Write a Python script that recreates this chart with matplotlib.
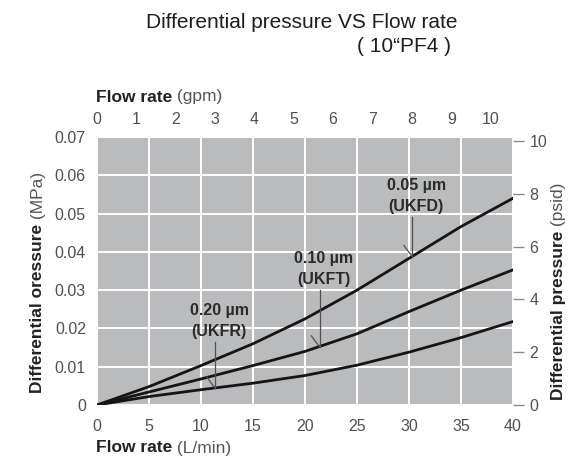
import matplotlib
matplotlib.use('Agg')
import matplotlib.pyplot as plt

# curves: flow rate (L/min) vs differential pressure (MPa)
flow = [0, 5, 10, 15, 20, 25, 30, 35, 40]
ukfd = [0, 0.0048, 0.0103, 0.0160, 0.0225, 0.0300, 0.0383, 0.0466, 0.0540]
ukft = [0, 0.0034, 0.0068, 0.0103, 0.0140, 0.0186, 0.0244, 0.0300, 0.0353]
ukfr = [0, 0.0022, 0.0040, 0.0057, 0.0077, 0.0104, 0.0138, 0.0176, 0.0218]

# callouts: text, arrow x (L/min), arrow tip (MPa), arrow top (MPa)
callouts = [
	('0.05 µm\n(UKFD)', 30.3, 0.0388, 0.0492),
	('0.10 µm\n(UKFT)', 21.4, 0.0152, 0.0300),
	('0.20 µm\n(UKFR)', 11.35, 0.0044, 0.0165),
]

mpa_ticks = [0, 0.01, 0.02, 0.03, 0.04, 0.05, 0.06, 0.07]
mpa_labels = ['0', '0.01', '0.02', '0.03', '0.04', '0.05', '0.06', '0.07']
lpm_ticks = [0, 5, 10, 15, 20, 25, 30, 35, 40]
gpm_ticks = list(range(0, 11))
psi_ticks = [0, 2, 4, 6, 8, 10]

LPM_PER_GPM = 3.785
MPA_PER_PSI = 0.006895

plt.rcParams['font.family'] = ['Liberation Sans Narrow', 'Liberation Sans', 'DejaVu Sans']

W, H = 581, 468
fig = plt.figure(figsize=(W / 100, H / 100), dpi=100)
ax = fig.add_axes([97 / W, 63 / H, 416 / W, 268 / H])
ax.set_facecolor('#babbbd')

for ys in (ukfd, ukft, ukfr):
	ax.plot(flow, ys, color='#151515', lw=2.0, solid_capstyle='round', solid_joinstyle='round', zorder=3)

ax.set_xlim(0, 40)
ax.set_ylim(0, 0.07)
ax.set_xticks(lpm_ticks)
ax.set_yticks(mpa_ticks)
ax.set_yticklabels(mpa_labels)
ax.grid(color='white', lw=1.4)
ax.set_axisbelow(True)
for s in ax.spines.values():
	s.set_visible(False)
ax.tick_params(length=0, labelsize=11.5, labelcolor='#505050')
ax.tick_params(axis='x', pad=10)
ax.tick_params(axis='y', pad=8)

# top axis in gpm
top = ax.secondary_xaxis('top', functions=(lambda x: x / LPM_PER_GPM, lambda x: x * LPM_PER_GPM))
top.set_xticks(gpm_ticks)
top.tick_params(length=0, labelsize=11.5, labelcolor='#505050', pad=7)
top.spines['top'].set_visible(False)

# right axis in psid
right = ax.secondary_yaxis('right', functions=(lambda y: y / MPA_PER_PSI, lambda y: y * MPA_PER_PSI))
right.set_yticks(psi_ticks)
right.tick_params(length=8, width=1, color='#8a8a8a', labelsize=11.5, labelcolor='#505050', pad=4)
right.spines['right'].set_visible(False)

# callouts with a vertical leader and one barb at the tip
for text, x, tip, y0 in callouts:
	ax.plot([x, x], [y0, tip], color='#505050', lw=0.9, zorder=4)
	ax.annotate('', xy=(x, tip), xytext=(-6, 8), textcoords='offset points',
		arrowprops=dict(arrowstyle='-', color='#505050', lw=0.9, shrinkA=0, shrinkB=0))
	ax.annotate(text, xy=(x, y0), xytext=(3, 2), textcoords='offset points',
		ha='center', va='bottom', fontsize=11.5, fontweight='bold', color='#2a2a2a',
		linespacing=1.5)

def px(x, y):
	return x / W, 1 - y / H

# title
fig.text(*px(458, 22), 'Differential pressure VS Flow rate', ha='right', va='center',
	fontsize=15, color='#1e1e1e', family=['Liberation Sans', 'DejaVu Sans'])
fig.text(*px(451, 47), '( 10“PF4 )', ha='right', va='center',
	fontsize=15, color='#1e1e1e', family=['Liberation Sans', 'DejaVu Sans'])

# axis labels, bold name and regular unit
def split_label(x, y, bold, unit, rotation=0):
	if rotation:
		t = fig.text(*px(x, y), bold, rotation=90, ha='center', va='bottom',
			fontsize=12.5, fontweight='bold', color='#222222')
		ax.annotate(unit, xy=(0.5, 1.0), xycoords=t, rotation=90, ha='center', va='bottom',
			fontsize=12.5, color='#555555', annotation_clip=False)
	else:
		t = fig.text(*px(x, y), bold, ha='left', va='center',
			fontsize=12.5, fontweight='bold', color='#222222')
		ax.annotate(unit, xy=(1.0, 0.0), xycoords=t, ha='left', va='bottom',
			fontsize=12.5, color='#555555', annotation_clip=False)

split_label(96, 97, 'Flow rate', ' (gpm)')
split_label(96, 448, 'Flow rate', ' (L/min)')
split_label(38, 393, 'Differential oressure', ' (MPa)', rotation=90)
split_label(558, 400, 'Differential pressure', ' (psid)', rotation=90)

plt.savefig('out.png', dpi=100)
